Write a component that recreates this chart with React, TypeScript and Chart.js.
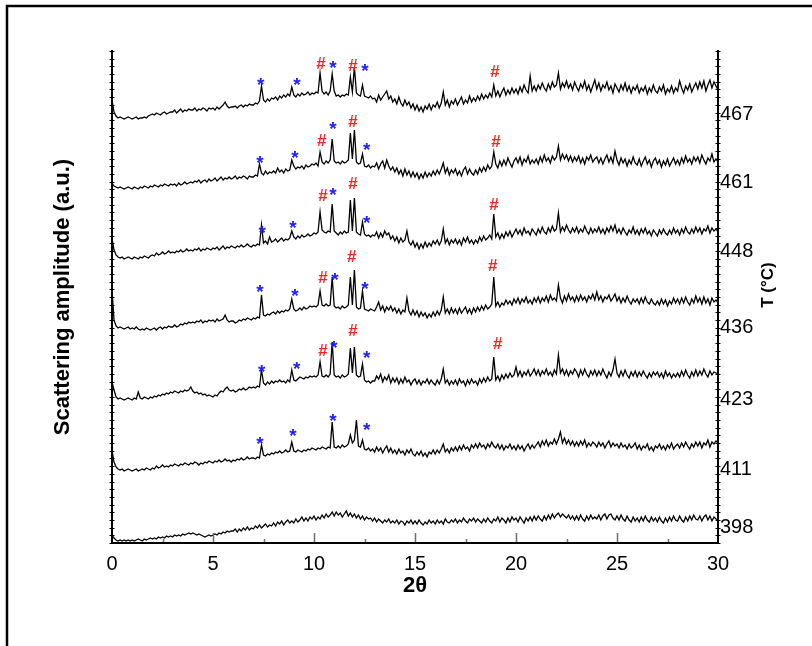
import React, { useEffect, useRef } from "react";
import { Chart, registerables } from "chart.js";

Chart.register(...registerables);

const FONT = "'Liberation Sans', Arial, Helvetica, sans-serif";

// 2θ sampling grid (degrees)
const TWO_THETA_START = 0;
const TWO_THETA_STEP = 0.1;

// Right-axis temperature labels and where they sit on the amplitude axis
const TEMPERATURES = ["398", "411", "423", "436", "448", "461", "467"];
const TEMP_LABEL_POS = [16, 74, 144, 216, 292, 361, 429];

const Y_MAX = 492;

// Stacked scattering curves (arbitrary units, offset stacked)
const T467 = [
  443, 431, 427, 425, 426, 425, 424, 425, 426, 425,
  424, 425, 426, 424, 425, 425, 426, 425, 427, 428,
  429, 428, 430, 429, 428, 430, 431, 429, 430, 431,
  431, 433, 430, 432, 434, 431, 433, 432, 434, 433,
  433, 435, 432, 434, 433, 435, 434, 432, 435, 434,
  435, 433, 436, 434, 436, 438, 441, 437, 435, 436,
  436, 437, 435, 437, 438, 436, 438, 437, 439, 438,
  438, 440, 439, 442, 457, 443, 441, 444, 442, 445,
  444, 446, 443, 447, 445, 448, 446, 449, 447, 456,
  448, 446, 449, 447, 450, 448, 449, 451, 448, 450,
  449, 451, 450, 470, 452, 449, 451, 448, 452, 469,
  452, 447, 448, 446, 448, 447, 449, 448, 466, 451,
  476, 450, 448, 447, 458, 447, 446, 445, 447, 444,
  445, 441, 448, 443, 446, 449, 452, 444, 447, 441,
  444, 439, 446, 440, 437, 443, 438, 441, 435, 439,
  433, 438, 432, 436, 431, 437, 434, 439, 433, 438,
  436, 441, 435, 440, 451, 438, 443, 436, 442, 439,
  444, 438, 442, 446, 439, 443, 440, 447, 441, 445,
  442, 447, 443, 449, 444, 448, 445, 450, 446, 458,
  447, 452, 446, 451, 455, 448, 453, 449, 455, 450,
  454, 449, 456, 451, 458, 453, 450, 467, 452, 457,
  452, 458, 454, 460, 455, 452, 459, 454, 461, 456,
  458, 470, 454, 460, 456, 462, 455, 459, 453, 461,
  456, 452, 459, 455, 462, 453, 458, 451, 457, 463,
  454, 460, 452, 458, 455, 461, 453, 457, 450, 459,
  455, 451, 458, 453, 460, 452, 457, 450, 456, 453,
  458, 450, 455, 452, 457, 449, 455, 451, 458, 452,
  450, 456, 452, 458, 449, 454, 451, 457, 450, 455,
  452, 462, 455, 450, 457, 453, 459, 451, 456, 460,
  454, 461, 455, 462, 452, 458, 463, 455, 461, 457,
  453,
];

const T461 = [
  360, 357, 356, 355, 356, 355, 354, 355, 356, 355,
  354, 356, 355, 354, 356, 355, 357, 356, 355, 357,
  356, 358, 357, 356, 358, 357, 359, 358, 357, 359,
  358, 359, 357, 360, 358, 359, 361, 359, 360, 361,
  360, 362, 361, 363, 360, 362, 363, 361, 364, 362,
  363, 365, 362, 364, 366, 363, 365, 364, 366, 364,
  365, 367, 364, 366, 365, 367, 366, 364, 367, 366,
  366, 368, 367, 379, 370, 368, 372, 369, 371, 370,
  372, 370, 375, 371, 373, 370, 374, 372, 373, 383,
  377, 374, 376, 375, 377, 374, 378, 376, 377, 379,
  378, 380, 377, 391, 381, 379, 382, 380, 383, 404,
  382, 380, 381, 379, 382, 380, 381, 383, 410, 384,
  413, 381, 379, 380, 389, 377, 376, 378, 375, 377,
  376, 380, 374, 379, 382, 375, 383, 377, 373, 376,
  371, 375, 369, 373, 367, 374, 368, 372, 366, 371,
  366, 370, 364, 369, 365, 371, 366, 370, 367, 372,
  368, 373, 369, 374, 380, 370, 375, 368, 373, 370,
  374, 368, 372, 367, 373, 376, 369, 374, 370, 368,
  373, 369, 375, 371, 376, 372, 378, 374, 377, 391,
  379, 375, 382, 377, 383, 378, 385, 380, 376, 382,
  385, 380, 386, 378, 384, 381, 387, 379, 383, 380,
  384, 379, 386, 381, 388, 382, 385, 380, 387, 383,
  386, 397, 383, 389, 384, 388, 382, 387, 381, 386,
  382, 387, 380, 385, 379, 386, 383, 388, 381, 384,
  386, 380, 385, 379, 384, 388, 381, 386, 380, 392,
  383, 378, 385, 380, 384, 377, 383, 379, 386, 380,
  378, 384, 377, 382, 386, 379, 383, 376, 382, 385,
  379, 383, 376, 382, 378, 384, 377, 381, 385, 379,
  383, 378, 385, 380, 387, 381, 384, 379, 386, 382,
  386, 380, 388, 383, 379, 385, 382, 389, 381, 384,
  381,
];

const T448 = [
  305, 293, 288, 286, 285, 286, 284, 285, 286, 285,
  284, 286, 285, 284, 286, 285, 287, 286, 285, 287,
  288, 287, 290, 288, 289, 291, 289, 290, 292, 290,
  291, 290, 292, 291, 293, 291, 292, 294, 292, 293,
  292, 294, 293, 295, 292, 294, 293, 295, 294, 293,
  295, 294, 296, 293, 295, 297, 294, 296, 295, 297,
  296, 295, 297, 296, 298, 296, 297, 299, 297, 296,
  298, 297, 299, 298, 318, 300, 302, 299, 306, 301,
  302, 304, 301, 303, 305, 302, 304, 303, 305, 312,
  306, 304, 307, 305, 308, 306, 307, 309, 307, 308,
  310, 309, 311, 331, 313, 311, 310, 312, 311, 339,
  312, 310, 308, 311, 309, 312, 310, 311, 343, 312,
  345, 311, 309, 308, 321, 309, 307, 308, 306, 308,
  307, 311, 305, 310, 306, 312, 308, 310, 304, 307,
  302, 306, 300, 305, 301, 303, 312, 301, 298, 302,
  296, 300, 294, 299, 295, 301, 296, 300, 297, 302,
  299, 303, 298, 302, 314, 300, 304, 298, 303, 300,
  304, 299, 303, 298, 305, 301, 306, 300, 303, 299,
  303, 300, 306, 302, 307, 303, 305, 308, 304, 329,
  306, 310, 304, 309, 305, 311, 307, 312, 306, 310,
  314, 309, 313, 308, 315, 310, 312, 308, 314, 311,
  308, 314, 310, 316, 311, 309, 315, 311, 317, 312,
  314, 330, 311, 316, 312, 318, 313, 310, 315, 311,
  316, 310, 314, 311, 317, 312, 309, 315, 310, 314,
  311, 316, 310, 314, 309, 315, 311, 317, 312, 318,
  310, 314, 309, 315, 311, 308, 313, 310, 316, 309,
  313, 308, 314, 310, 315, 309, 312, 307, 313, 310,
  307, 313, 309, 314, 310, 308, 313, 309, 315, 310,
  313, 308, 314, 310, 316, 311, 309, 314, 310, 316,
  311, 315, 309, 314, 312, 317, 310, 315, 312, 314,
  311,
];

const T436 = [
  253, 223, 217, 215, 216, 215, 214, 215, 216, 214,
  215, 214, 216, 214, 213, 214, 213, 215, 214, 213,
  214, 215, 213, 215, 216, 214, 216, 215, 217, 216,
  216, 218, 216, 217, 219, 218, 220, 219, 221, 220,
  221, 220, 222, 221, 223, 220, 222, 221, 223, 222,
  223, 221, 224, 222, 223, 224, 228, 223, 221, 222,
  222, 220, 221, 223, 222, 224, 223, 225, 224, 223,
  225, 224, 226, 225, 248, 228, 227, 229, 228, 230,
  231, 229, 232, 230, 232, 231, 233, 232, 234, 244,
  234, 232, 233, 235, 233, 236, 234, 235, 237, 236,
  237, 236, 238, 252, 238, 237, 239, 237, 238, 266,
  237, 235, 236, 234, 237, 235, 236, 238, 266, 238,
  273, 236, 234, 235, 252, 234, 233, 232, 234, 233,
  232, 236, 241, 233, 237, 231, 236, 233, 237, 232,
  235, 230, 234, 229, 233, 231, 245, 232, 228, 233,
  228, 232, 226, 231, 227, 230, 225, 229, 226, 231,
  227, 232, 228, 233, 246, 230, 234, 229, 235, 230,
  234, 229, 235, 230, 233, 236, 230, 234, 229, 235,
  231, 236, 232, 237, 233, 238, 234, 236, 239, 266,
  237, 241, 236, 240, 238, 243, 239, 242, 238, 244,
  240, 245, 239, 244, 241, 246, 240, 243, 239, 245,
  241, 246, 240, 245, 242, 247, 241, 248, 243, 245,
  242, 258, 245, 240, 247, 242, 249, 243, 246, 241,
  247, 242, 248, 243, 246, 241, 247, 244, 249, 243,
  251, 243, 247, 241, 246, 244, 248, 242, 245, 249,
  242, 246, 240, 245, 241, 247, 242, 239, 244, 241,
  244, 239, 245, 240, 246, 241, 239, 244, 240, 238,
  242, 238, 244, 239, 243, 237, 242, 239, 245, 240,
  244, 239, 245, 240, 246, 241, 238, 244, 240, 247,
  241, 245, 239, 246, 240, 244, 238, 245, 241, 243,
  240,
];

const T423 = [
  161, 153, 146, 144, 145, 144, 143, 144, 145, 144,
  143, 145, 144, 151, 145, 144, 146, 145, 144, 146,
  145, 147, 146, 148, 147, 149, 148, 150, 149, 151,
  150, 152, 151, 150, 152, 151, 153, 152, 153, 156,
  152, 150, 151, 149, 150, 148, 149, 147, 148, 147,
  146, 148, 147, 150, 152, 151, 154, 156, 153, 152,
  153, 151, 152, 154, 153, 155, 153, 154, 156, 155,
  156, 155, 157, 156, 173, 160, 158, 161, 159, 162,
  160, 162, 161, 163, 161, 162, 160, 163, 161, 173,
  163, 162, 164, 166, 165, 164, 166, 165, 167, 166,
  167, 166, 168, 181, 167, 166, 168, 166, 169, 201,
  168, 166, 167, 165, 168, 166, 167, 169, 195, 170,
  196, 168, 166, 167, 179, 163, 161, 162, 160, 162,
  162, 167, 164, 169, 161, 166, 163, 168, 160, 165,
  161, 165, 159, 164, 160, 166, 161, 163, 158, 162,
  164, 159, 163, 158, 162, 160, 164, 159, 163, 160,
  158, 163, 159, 164, 174, 160, 163, 158, 162, 159,
  163, 158, 164, 160, 162, 157, 163, 159, 164, 160,
  162, 158, 164, 160, 165, 161, 166, 162, 164, 186,
  163, 167, 162, 168, 164, 169, 165, 170, 166, 168,
  176, 167, 172, 166, 171, 168, 173, 167, 170, 174,
  168, 173, 167, 172, 169, 174, 168, 171, 167, 173,
  169, 188, 170, 174, 168, 173, 167, 172, 169, 174,
  171, 166, 173, 168, 174, 169, 166, 172, 168, 173,
  167, 172, 168, 174, 169, 165, 171, 167, 173, 184,
  170, 166, 172, 167, 173, 168, 165, 171, 167, 172,
  166, 171, 167, 172, 168, 165, 170, 166, 171, 168,
  171, 166, 170, 165, 172, 167, 170, 165, 169, 166,
  170, 166, 172, 167, 173, 168, 165, 171, 167, 173,
  167, 172, 168, 174, 169, 166, 172, 168, 171, 170,
  169,
];

const T411 = [
  93, 81, 76, 74, 73, 74, 72, 73, 74, 73,
  72, 73, 74, 72, 73, 74, 73, 75, 74, 73,
  75, 74, 77, 75, 76, 78, 76, 77, 76, 78,
  77, 79, 78, 77, 79, 78, 80, 79, 78, 80,
  79, 81, 80, 78, 80, 79, 81, 80, 82, 81,
  80, 82, 81, 83, 81, 82, 84, 82, 83, 81,
  83, 82, 84, 83, 85, 83, 84, 86, 84, 85,
  85, 84, 86, 85, 98, 88, 87, 89, 88, 90,
  89, 91, 90, 92, 90, 91, 93, 91, 92, 101,
  92, 91, 93, 92, 91, 93, 92, 94, 93, 95,
  94, 93, 95, 94, 96, 95, 94, 96, 95, 121,
  96, 95, 97, 95, 98, 96, 97, 99, 108, 100,
  103, 123, 97, 96, 103, 94, 93, 95, 92, 94,
  91, 96, 92, 95, 90, 94, 97, 91, 95, 90,
  93, 89, 94, 90, 92, 88, 93, 90, 94, 89,
  87, 91, 88, 92, 87, 90, 86, 91, 89, 93,
  89, 93, 90, 94, 99, 91, 94, 90, 95, 92,
  96, 92, 97, 93, 98, 94, 96, 92, 98, 95,
  99, 95, 100, 96, 98, 94, 99, 96, 101, 97,
  95, 99, 94, 98, 93, 97, 95, 99, 94, 97,
  93, 98, 94, 97, 92, 96, 99, 94, 98, 95,
  98, 101, 96, 102, 98, 103, 97, 101, 99, 104,
  99, 104, 111, 100, 105, 99, 103, 98, 102, 97,
  101, 97, 102, 98, 103, 96, 100, 97, 101, 99,
  96, 101, 97, 100, 95, 99, 102, 96, 100, 97,
  99, 95, 100, 96, 98, 94, 99, 95, 97, 100,
  94, 98, 93, 97, 95, 99, 93, 96, 92, 97,
  95, 99, 94, 97, 93, 98, 95, 100, 94, 97,
  99, 95, 100, 96, 101, 97, 94, 99, 96, 101,
  97, 101, 95, 100, 98, 103, 96, 101, 99, 102,
  100,
];

const T398 = [
  8, 5, 3, 2, 3, 2, 3, 2, 3, 2,
  3, 2, 3, 4, 3, 2, 4, 3, 4, 5,
  4, 5, 4, 6, 5, 6, 5, 7, 6, 7,
  6, 8, 7, 8, 7, 9, 8, 9, 10, 9,
  10, 9, 8, 9, 8, 7, 6, 7, 8, 7,
  8, 9, 8, 10, 9, 11, 10, 12, 11, 12,
  12, 14, 11, 14, 12, 15, 13, 16, 13, 15,
  14, 17, 15, 18, 15, 17, 19, 16, 18, 17,
  20, 17, 21, 19, 22, 18, 21, 23, 20, 22,
  20, 24, 21, 23, 26, 22, 25, 22, 26, 24,
  27, 23, 26, 24, 28, 25, 29, 26, 28, 31,
  27, 31, 28, 30, 26, 29, 32, 27, 30, 26,
  29, 25, 28, 24, 27, 23, 26, 24, 25, 22,
  25, 21, 24, 22, 20, 23, 21, 24, 20, 22,
  20, 23, 19, 22, 21, 18, 22, 20, 23, 19,
  22, 19, 23, 20, 18, 21, 19, 23, 20, 22,
  19, 23, 20, 22, 19, 24, 21, 20, 23, 21,
  24, 20, 23, 21, 25, 22, 20, 24, 22, 25,
  21, 24, 22, 20, 24, 21, 25, 22, 20, 24,
  22, 26, 21, 25, 23, 20, 25, 21, 26, 23,
  25, 21, 26, 23, 20, 25, 22, 26, 22, 27,
  23, 27, 24, 22, 27, 23, 28, 24, 29, 25,
  28, 30, 26, 29, 27, 25, 28, 24, 27, 23,
  27, 23, 28, 24, 22, 27, 23, 28, 24, 26,
  24, 28, 23, 27, 29, 24, 28, 29, 25, 23,
  27, 23, 28, 24, 22, 27, 23, 21, 26, 22,
  25, 21, 26, 22, 27, 23, 21, 26, 22, 25,
  21, 26, 22, 20, 25, 21, 26, 22, 27, 23,
  22, 27, 23, 21, 26, 22, 27, 23, 28, 24,
  23, 27, 22, 26, 28, 23, 27, 22, 26, 24,
  23,
];

const SERIES = [T467, T461, T448, T436, T423, T411, T398];
const SERIES_NAMES = ["467", "461", "448", "436", "423", "411", "398"];

// Peak annotations: * (blue) and # (red), positions in data units
const STAR_X = [7.36, 9.16, 10.94, 12.52, 7.33, 9.06, 10.94, 12.61, 7.43, 8.96, 10.94, 12.61, 7.33, 9.06, 11.04, 12.52, 7.41, 9.14, 10.99, 12.61, 7.33, 8.96, 10.94, 12.61];
const STAR_Y = [463, 463, 480, 477, 385, 390, 419, 398, 315, 320, 353, 325, 256, 252, 268, 259, 176, 179, 200, 190, 104, 112, 127, 118];
const HASH_X = [10.35, 11.93, 18.96, 10.38, 11.93, 19.01, 10.45, 11.93, 18.91, 10.45, 11.87, 18.85, 10.45, 11.93, 19.09];
const HASH_Y = [480, 478, 472, 403, 422, 402, 348, 360, 339, 266, 287, 278, 193, 213, 200];

const X_MAJOR_STEP = 5;
const X_MINOR_STEP = 2.5;
const Y_MINOR_STEP = Y_MAX / 64;

const decorPlugin = {
  id: "decor",
  beforeDraw(chart: any) {
    const ctx = chart.ctx;
    ctx.save();
    ctx.fillStyle = "#ffffff";
    ctx.fillRect(0, 0, chart.width, chart.height);
    ctx.strokeStyle = "#000000";
    ctx.lineWidth = 2.5;
    ctx.beginPath();
    ctx.moveTo(7, chart.height + 10);
    ctx.lineTo(7, 6);
    ctx.lineTo(chart.width + 10, 6);
    ctx.stroke();
    ctx.restore();
  },
  afterDraw(chart: any) {
    const ctx = chart.ctx;
    const xs = chart.scales.x;
    const ys = chart.scales.y;
    const area = chart.chartArea;
    ctx.save();
    // x ticks pointing inward
    ctx.strokeStyle = "#6e6e6e";
    ctx.lineWidth = 1.5;
    for (let v = X_MINOR_STEP; v < 30 - 1e-6; v += X_MINOR_STEP) {
      const px = Math.round(xs.getPixelForValue(v)) + 0.5;
      const major = Math.abs(v / X_MAJOR_STEP - Math.round(v / X_MAJOR_STEP)) < 1e-6;
      const len = major ? 9 : 3;
      ctx.beginPath();
      ctx.moveTo(px, area.bottom - 1);
      ctx.lineTo(px, area.bottom - 1 - len);
      ctx.stroke();
    }
    // small ticks on both vertical axes
    ctx.strokeStyle = "#000000";
    ctx.lineWidth = 1;
    for (let v = 0; v <= Y_MAX + 1e-6; v += Y_MINOR_STEP) {
      const py = Math.round(ys.getPixelForValue(v)) + 0.5;
      [area.left, area.right].forEach((ax: number) => {
        ctx.beginPath();
        ctx.moveTo(ax - 2.5, py);
        ctx.lineTo(ax + 2.5, py);
        ctx.stroke();
      });
    }
    // annotations
    ctx.textAlign = "center";
    ctx.textBaseline = "alphabetic";
    ctx.fillStyle = "#2020ff";
    ctx.font = `bold 19px ${FONT}`;
    STAR_X.forEach((x, i) => {
      ctx.fillText("*", xs.getPixelForValue(x), ys.getPixelForValue(STAR_Y[i]) + 10.5);
    });
    ctx.fillStyle = "#ff2020";
    ctx.font = `bold 17px ${FONT}`;
    HASH_X.forEach((x, i) => {
      ctx.fillText("#", xs.getPixelForValue(x), ys.getPixelForValue(HASH_Y[i]) + 6);
    });
    // right axis title
    ctx.fillStyle = "#000000";
    ctx.font = `bold 17px ${FONT}`;
    ctx.textBaseline = "middle";
    ctx.translate(area.right + 50, 285);
    ctx.rotate(-Math.PI / 2);
    ctx.fillText("T (°C)", 0, 0);
    ctx.restore();
  },
};

export default function App() {
  const ref = useRef<HTMLCanvasElement | null>(null);

  useEffect(() => {
    if (!ref.current) return;
    Chart.defaults.font.family = FONT;
    const datasets = SERIES.map((ys, k) => ({
      label: SERIES_NAMES[k],
      data: ys.map((y, i) => ({ x: TWO_THETA_START + i * TWO_THETA_STEP, y })),
      borderColor: "#000000",
      borderWidth: 1.3,
      pointRadius: 0,
      tension: 0,
      fill: false,
    }));
    const chart = new Chart(ref.current, {
      type: "line",
      data: { datasets },
      options: {
        responsive: false,
        animation: false,
        devicePixelRatio: 1,
        layout: { padding: { top: 51, left: 0, right: 0, bottom: 0 } },
        plugins: {
          legend: { display: false },
          tooltip: { enabled: false },
          title: { display: false },
        },
        scales: {
          x: {
            type: "linear",
            position: "bottom",
            min: 0,
            max: 30,
            ticks: {
              stepSize: 5,
              color: "#000000",
              font: { family: FONT, size: 20 },
              padding: 9,
              maxRotation: 0,
              autoSkip: false,
            },
            grid: { display: false, drawTicks: false },
            border: { display: true, color: "#000000", width: 2 },
            title: {
              display: true,
              text: "2θ",
              color: "#000000",
              font: { family: FONT, size: 22, weight: "bold" },
              padding: { top: 0, bottom: 47 },
            },
            afterFit: (s: any) => {
              s.height = 103;
            },
          },
          y: {
            type: "linear",
            position: "left",
            min: 0,
            max: Y_MAX,
            ticks: { display: false },
            grid: { display: false, drawTicks: false },
            border: { display: true, color: "#000000", width: 2 },
            title: {
              display: true,
              text: "Scattering amplitude (a.u.)",
              color: "#000000",
              font: { family: FONT, size: 22, weight: "bold" },
              padding: { top: 50, bottom: 0 },
            },
            afterFit: (s: any) => {
              s.width = 112;
            },
          },
          yR: {
            type: "linear",
            position: "right",
            min: 0,
            max: Y_MAX,
            afterBuildTicks: (s: any) => {
              s.ticks = TEMP_LABEL_POS.map((v) => ({ value: v }));
            },
            ticks: {
              color: "#000000",
              font: { family: FONT, size: 20 },
              padding: 2,
              autoSkip: false,
              callback: (v: any) => {
                const idx = TEMP_LABEL_POS.indexOf(Number(v));
                return idx >= 0 ? TEMPERATURES[idx] : "";
              },
            },
            grid: { display: false, drawTicks: false },
            border: { display: true, color: "#000000", width: 2 },
            afterFit: (s: any) => {
              s.width = 94;
            },
          },
        },
      } as any,
      plugins: [decorPlugin],
    });
    return () => chart.destroy();
  }, []);

  return (
    <div style={{ position: "absolute", left: 0, top: 0, width: 812, height: 646, background: "#fff" }}>
      <canvas ref={ref} width={812} height={646} style={{ display: "block", width: 812, height: 646 }} />
    </div>
  );
}
